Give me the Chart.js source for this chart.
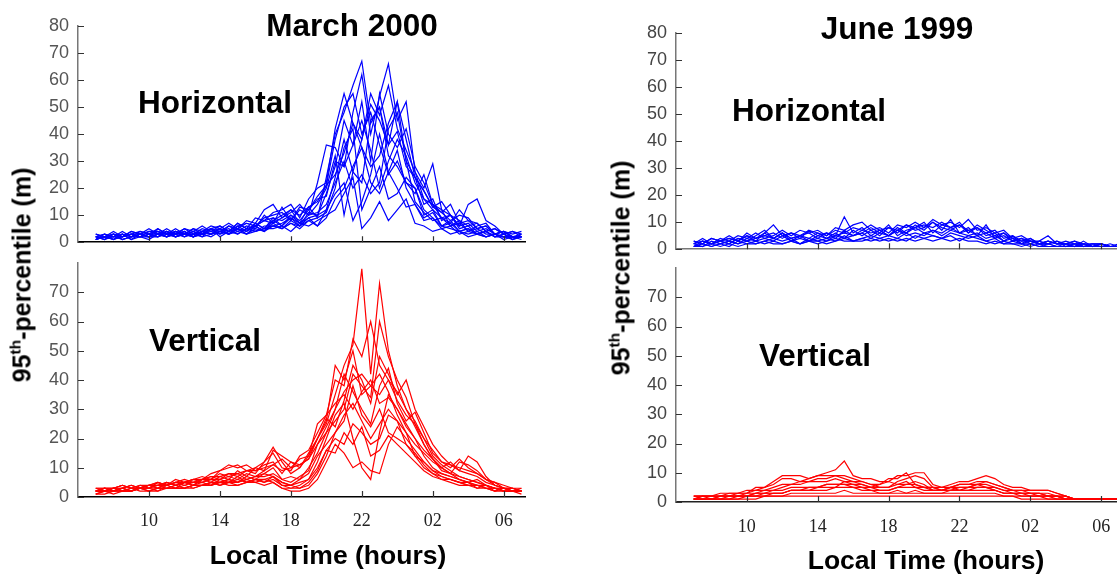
<!DOCTYPE html>
<html>
<head>
<meta charset="utf-8">
<script src="https://cdn.jsdelivr.net/npm/chart.js@4.4.1/dist/chart.umd.min.js"></script>
<style>
  html, body { margin: 0; padding: 0; background: #fff; overflow: hidden; }
  #stage { position: relative; width: 1117px; height: 576px; overflow: hidden; background: #fff; }
  canvas { position: absolute; }
  .lbl {
    position: absolute; font-family: 'Liberation Sans', Arial, sans-serif; font-weight: bold;
    color: #000; white-space: nowrap; line-height: 1; transform: translate(-50%, -50%);
  }
  .big { font-size: 31.5px; }
  .axt { font-size: 26.5px; }
  .ylab { font-size: 25px; transform: translate(-50%, -50%) rotate(-90deg); }
  .ylab sup { font-size: 0.62em; vertical-align: 0.62em; line-height: 0; }
</style>
</head>
<body>
<div id="stage">
  <canvas id="marchH" width="540" height="262" style="left:0;top:0"></canvas>
  <canvas id="marchV" width="540" height="336" style="left:0;top:240px"></canvas>
  <canvas id="juneH" width="540" height="269" style="left:600px;top:0"></canvas>
  <canvas id="juneV" width="540" height="331" style="left:600px;top:245px"></canvas>

  <div class="lbl big" style="left:352px;top:26px">March 2000</div>
  <div class="lbl big" style="left:215px;top:103px">Horizontal</div>
  <div class="lbl big" style="left:205px;top:341px">Vertical</div>
  <div class="lbl axt" style="left:328px;top:555px">Local Time (hours)</div>
  <div class="lbl ylab" style="left:22px;top:275px">95<sup>th</sup>-percentile (m)</div>

  <div class="lbl big" style="left:897px;top:29px">June 1999</div>
  <div class="lbl big" style="left:809px;top:111px">Horizontal</div>
  <div class="lbl big" style="left:815px;top:356px">Vertical</div>
  <div class="lbl axt" style="left:926px;top:560px">Local Time (hours)</div>
  <div class="lbl ylab" style="left:621px;top:268px">95<sup>th</sup>-percentile (m)</div>
</div>

<script>
// Half-hourly sample times, in hours from midnight of the first day (07:00 -> 07:00 next day)
const HOURS = [7, 7.5, 8, 8.5, 9, 9.5, 10, 10.5, 11, 11.5, 12, 12.5, 13, 13.5,
  14, 14.5, 15, 15.5, 16, 16.5, 17, 17.5, 18, 18.5, 19, 19.5, 20, 20.5,
  21, 21.5, 22, 22.5, 23, 23.5, 24, 24.5, 25, 25.5, 26, 26.5, 27, 27.5,
  28, 28.5, 29, 29.5, 30, 30.5, 31];

const TICK_HOURS = [10, 14, 18, 22, 26, 30];
const TICK_LABELS = ['10', '14', '18', '22', '02', '06'];
const Y_TICKS_TOP = [0, 10, 20, 30, 40, 50, 60, 70, 80];
const Y_TICKS_BOTTOM = [0, 10, 20, 30, 40, 50, 60, 70];

// 95th-percentile horizontal displacement (m), March 2000, one row per night
const marchHorizontal = [
  [2,3,1,3,2,4,3, 4,2,4,3,2,4,3, 5,3,5,4,7,5,9, 6,10,7,13,9,24,40, 48,58,67,44,50,36,52, 30,24,14,16,8,10,5, 6,3,4,2,3,1,3],
  [1,2,3,1,2,3,2, 5,3,4,2,3,2,5, 3,6,4,6,5,10,7, 13,8,12,10,22,36,35, 28,48,62,40,54,66,45, 52,26,20,29,12,10,6, 14,16,8,6,3,4,2],
  [2,1,2,3,1,2,3, 2,4,3,4,2,4,3, 5,3,6,4,7,5,8, 6,9,6,11,10,18,28, 45,36,52,30,55,40,35, 42,28,22,14,12,6,8, 4,6,7,3,4,2,2],
  [1,2,1,2,3,2,1, 3,4,2,3,5,3,5, 2,4,5,3,6,4,8, 10,12,7,9,6,12,24, 38,26,22,45,50,32,28, 22,20,10,12,6,8,4, 5,3,4,2,3,1,2],
  [2,3,2,4,2,3,2, 3,2,4,3,3,5,4, 6,4,7,5,9,8,11, 12,14,9,16,20,22,42, 55,44,35,28,32,44,52, 38,24,19,13,11,14,7, 8,5,6,3,4,2,3],
  [1,2,2,3,1,3,2, 4,3,2,3,2,4,3, 4,3,5,4,6,4,7, 5,8,6,9,10,12,18, 22,8,15,25,40,26,20, 13,14,8,9,6,7,4, 5,3,4,2,2,1,2],
  [2,1,3,2,4,3,5, 3,4,3,5,3,4,6, 5,7,5,8,7,12,14, 9,11,14,10,14,20,32, 10,26,38,55,47,58,42, 34,26,16,12,9,10,6, 7,4,5,3,4,2,2],
  [1,2,1,2,3,2,2, 3,2,3,4,2,3,4, 3,4,3,5,4,5,6, 5,7,6,8,9,11,20, 35,42,12,20,28,16,18, 24,20,12,9,5,6,3, 4,3,2,3,2,2,1],
  [2,2,3,2,3,4,3, 5,3,4,3,5,4,5, 6,4,7,5,6,8,9, 8,10,8,12,16,17,30, 28,36,45,34,20,30,38, 32,22,16,14,9,7,12, 8,7,4,5,3,2,2],
  [1,3,2,1,2,3,2, 3,2,3,2,4,2,3, 4,3,5,3,4,5,5, 6,4,7,6,8,10,12, 18,24,5,9,15,8,12, 16,7,6,4,5,3,4, 2,3,2,3,1,2,2],
  [3,2,3,2,4,3,4, 3,5,3,5,4,6,4, 5,4,6,7,6,9,10, 11,8,13,12,17,21,38, 50,55,40,48,36,25,30, 22,18,25,14,11,8,10, 9,5,6,3,4,3,4],
  [2,1,3,1,2,3,2, 2,4,2,3,2,4,3, 4,5,3,5,4,6,6, 7,9,7,10,11,14,22, 30,20,25,18,22,42,48, 30,15,11,8,9,6,7, 4,5,3,3,2,2,2],
  [3,2,4,2,3,2,4, 4,3,5,3,4,3,5, 4,6,5,7,6,8,7, 9,12,10,13,15,21,25, 33,44,38,51,45,36,41, 28,24,19,13,15,10,8, 6,7,4,5,3,4,3],
  [1,2,1,3,2,2,3, 2,3,2,4,2,3,2, 4,3,4,3,5,4,6, 5,7,5,8,6,9,16, 20,28,35,22,18,26,34, 20,14,9,11,6,5,4, 3,4,2,3,2,2,2]
];

// 95th-percentile vertical displacement (m), March 2000
const marchVertical = [
  [2,3,2,3,4,3,4, 3,5,4,5,4,6,5, 7,6,9,7,10,9,16, 14,12,10,15,20,25,35, 45,52,78,42,73,50,38, 30,24,18,13,10,8,6, 5,3,4,2,3,2,2],
  [3,2,3,4,3,3,4, 5,4,6,5,6,7,6, 9,10,11,9,8,12,15, 10,9,14,16,22,28,40, 38,54,48,60,45,40,33, 28,25,20,14,11,9,7, 6,5,4,3,3,2,3],
  [2,3,2,2,3,4,3, 4,3,3,5,4,6,6, 8,7,8,6,7,8,10, 6,5,7,9,18,24,30, 42,36,30,25,38,44,32, 26,29,22,15,12,10,13, 10,8,6,5,4,3,2],
  [1,2,3,2,2,3,3, 2,4,3,3,4,5,4, 6,5,7,5,6,5,7, 4,3,4,6,12,20,28, 32,20,10,6,22,35,30, 25,20,14,10,8,7,6, 5,4,3,2,3,2,2],
  [2,2,3,3,2,4,3, 5,4,5,6,5,6,7, 6,8,7,9,10,12,17, 12,8,10,14,20,26,45, 40,50,35,38,42,36,28, 22,18,15,12,10,12,9, 8,7,5,4,3,2,2],
  [3,3,2,3,4,3,3, 4,4,5,4,5,5,6, 5,6,5,7,6,8,7, 5,4,6,8,14,18,22, 28,32,26,20,25,30,26, 18,14,12,9,8,7,6, 5,6,4,3,3,2,2],
  [2,2,2,3,2,3,3, 3,4,3,3,4,4,5, 4,5,4,5,5,6,5, 3,2,2,3,6,12,18, 15,10,12,9,8,18,24, 20,16,12,9,7,6,5, 4,4,3,3,2,2,1],
  [2,3,3,4,3,3,4, 4,5,4,5,6,6,8, 9,11,10,11,9,11,12, 8,12,11,13,18,22,30, 36,40,42,38,35,40,36, 30,26,20,16,12,11,9, 14,12,7,4,3,3,3],
  [2,2,3,2,2,3,4, 3,3,4,3,4,4,5, 5,6,5,6,7,7,8, 6,7,6,10,15,22,26, 30,42,38,34,60,48,40, 34,25,18,13,10,8,7, 6,5,4,3,2,2,2],
  [1,1,2,2,3,2,2, 3,3,3,4,3,4,4, 5,5,6,5,6,6,7, 5,4,5,6,10,16,20, 18,25,22,18,20,28,26, 22,14,10,8,6,5,4, 4,3,3,2,2,2,2],
  [3,3,3,4,3,4,4, 5,4,5,5,6,5,6, 6,7,6,8,7,9,11, 9,10,13,14,25,28,32, 35,30,36,40,32,34,30, 24,20,16,13,9,8,12, 11,9,6,5,3,3,2],
  [2,2,2,3,2,3,2, 3,3,4,3,3,4,5, 4,5,5,6,5,4,5, 3,3,3,4,8,14,22, 26,38,28,24,30,22,20, 18,15,11,8,7,6,5, 5,4,4,3,2,2,2],
  [2,3,3,3,4,3,4, 4,5,4,5,5,6,7, 7,8,8,9,9,10,11, 13,10,11,13,20,27,24, 33,45,40,32,48,42,35, 40,30,24,18,14,11,10, 9,8,6,4,3,3,2],
  [1,2,1,2,2,3,2, 2,3,3,3,4,4,4, 5,4,4,5,6,5,6, 4,4,3,5,9,16,15, 22,18,24,14,16,21,18, 15,12,9,7,6,6,5, 4,4,3,3,2,2,2]
];

// 95th-percentile horizontal displacement (m), June 1999
const juneHorizontal = [
  [2,4,2,3,4,3,5, 3,6,4,6,3,5,4, 6,4,5,12,6,8,5, 7,5,8,6,9,7,10, 8,7,9,6,8,5,6, 3,5,2,4,2,3,2, 2,1,3,1,2,1,1],
  [1,3,2,3,2,4,3, 5,7,4,6,4,5,3, 5,4,6,4,7,5,7, 5,8,6,9,7,8,10, 7,11,6,8,5,9,4, 6,3,4,2,3,5,2, 2,3,1,2,2,1,1],
  [3,2,4,3,5,3,6, 4,6,9,5,6,4,7, 5,6,4,7,5,6,8, 6,9,5,7,8,10,6, 9,8,10,6,9,7,5, 6,4,3,4,2,3,2, 3,2,2,1,2,1,1],
  [2,1,3,2,3,2,4, 3,4,3,5,3,4,3, 4,3,5,4,5,6,4, 6,5,7,5,6,5,7, 5,7,6,5,6,4,5, 3,4,2,3,2,2,1, 2,1,2,1,1,1,1],
  [1,2,1,2,3,2,3, 2,3,4,3,4,2,4, 3,4,3,5,3,4,5, 4,5,4,6,4,6,5, 4,6,5,4,5,3,4, 2,3,2,2,1,2,1, 1,2,1,1,1,1,1],
  [2,3,2,4,3,5,4, 6,4,5,7,5,7,6, 7,5,8,7,9,10,7, 8,6,9,8,10,8,11, 9,10,8,11,7,8,6, 7,4,5,3,3,2,3, 2,3,2,2,2,1,2],
  [1,2,1,2,1,3,2, 3,2,3,2,3,2,3, 2,3,4,3,3,4,3, 4,3,4,3,5,4,5, 4,5,3,5,4,3,2, 3,2,2,1,2,1,1, 1,1,2,1,1,1,1],
  [2,3,2,3,2,4,3, 4,5,4,6,4,5,6, 4,6,5,6,5,7,6, 7,5,7,6,8,6,7, 6,8,6,7,5,6,4, 5,3,4,3,2,3,2, 2,2,1,2,1,2,1],
  [3,2,4,3,4,3,5, 4,5,6,4,6,5,7, 6,5,7,6,8,7,9, 7,8,7,9,8,9,8, 10,8,9,7,8,6,7, 4,5,3,3,2,2,3, 1,2,2,1,2,1,1],
  [1,1,2,1,2,1,2, 2,3,2,2,3,2,3, 3,2,3,4,3,3,4, 3,4,3,4,3,4,3, 4,3,4,3,3,2,3, 2,2,1,2,1,1,1, 1,1,1,1,1,1,1]
];

// 95th-percentile vertical displacement (m), June 1999
const juneVertical = [
  [2,2,2,2,2,3,4, 4,5,7,9,9,9,8, 9,10,11,14,9,8,8, 7,7,9,9,10,10,6, 5,6,7,7,8,9,8, 6,5,5,4,4,4,3, 2,1,1,1,1,1,1],
  [1,2,2,2,3,3,3, 5,5,6,8,8,7,8, 9,9,9,9,8,7,6, 6,8,8,10,6,5,4, 4,5,6,6,7,7,6, 5,4,4,4,4,4,3, 2,1,1,1,1,1,1],
  [1,1,1,2,2,2,2, 3,3,4,5,6,6,7, 7,7,8,7,7,6,5, 5,5,6,6,6,5,5, 5,5,5,5,6,6,5, 4,4,3,3,3,2,2, 1,1,1,1,1,1,1],
  [1,1,1,1,1,2,2, 2,2,3,3,4,4,5, 5,6,6,6,5,5,5, 4,4,5,5,5,4,4, 4,4,4,4,5,5,4, 3,3,3,2,2,2,1, 1,1,1,1,1,1,1],
  [2,2,2,2,2,2,3, 3,3,3,3,4,4,4, 4,4,5,5,5,4,4, 3,3,4,3,4,3,3, 3,4,4,4,4,4,4, 3,3,3,3,2,2,2, 1,1,1,1,1,1,1],
  [1,1,1,1,1,1,2, 2,2,2,2,3,3,3, 3,3,3,4,3,3,3, 3,3,3,3,3,3,3, 3,3,3,3,3,3,3, 2,2,2,2,2,1,1, 1,1,1,1,1,1,1],
  [1,1,1,1,2,2,2, 3,4,5,6,6,7,7, 8,8,9,8,7,7,6, 5,5,7,8,9,8,5, 4,5,6,6,6,7,6, 5,4,4,3,3,3,2, 2,1,1,1,1,1,1],
  [2,2,2,3,3,3,3, 4,4,4,4,5,5,5, 5,6,6,6,6,5,4, 4,4,5,6,7,6,4, 4,4,5,5,5,5,5, 4,3,3,3,3,2,2, 2,1,1,1,1,1,1],
  [1,1,1,1,1,1,1, 1,2,2,2,2,2,2, 2,2,2,2,2,2,2, 2,2,2,2,2,2,2, 2,2,2,2,2,2,2, 2,2,1,1,1,1,1, 1,1,1,1,1,1,1],
  [1,2,1,2,2,2,2, 2,3,3,3,4,4,4, 5,5,5,7,6,6,5, 6,7,6,7,5,5,5, 4,5,4,5,6,5,4, 3,3,2,2,2,2,2, 1,1,1,1,1,1,1]
];

// Short tick marks drawn inward from the axis lines
const innerTicks = {
  id: 'innerTicks',
  afterDraw(chart, args, opts) {
    const { ctx, chartArea, scales } = chart;
    ctx.save();
    ctx.strokeStyle = opts.color;
    ctx.lineWidth = 1.2;
    ctx.beginPath();
    opts.x.forEach(v => {
      const px = Math.round(scales.x.getPixelForValue(v)) + 0.5;
      ctx.moveTo(px, chartArea.bottom);
      ctx.lineTo(px, chartArea.bottom - 6);
    });
    opts.y.forEach(v => {
      const py = Math.round(scales.y.getPixelForValue(v)) + 0.5;
      ctx.moveTo(chartArea.left, py);
      ctx.lineTo(chartArea.left + 6, py);
    });
    ctx.stroke();
    ctx.restore();
  }
};

function panel(id, rows, color, o) {
  const datasets = rows.map(vals => ({
    data: vals.map((v, i) => ({ x: HOURS[i], y: v })),
    borderColor: color,
    borderWidth: 1.2,
    pointRadius: 0,
    tension: 0,
    fill: false
  }));
  return new Chart(document.getElementById(id), {
    type: 'line',
    data: { datasets },
    options: {
      responsive: false,
      animation: false,
      devicePixelRatio: 1,
      layout: { padding: o.padding },
      plugins: {
        legend: { display: false },
        tooltip: { enabled: false },
        innerTicks: { x: TICK_HOURS, y: o.yTicks, color: o.tickColor }
      },
      scales: {
        x: {
          type: 'linear', min: 6, max: o.xMax,
          afterBuildTicks: s => { s.ticks = TICK_HOURS.map(v => ({ value: v })); },
          afterFit: s => { s.height = o.xHeight; },
          ticks: {
            display: o.showX, autoSkip: false, maxRotation: 0, padding: o.xPad,
            color: '#222',
            font: { family: "'Liberation Serif', serif", size: 18 },
            callback: v => TICK_LABELS[TICK_HOURS.indexOf(v)]
          },
          grid: { display: false, drawTicks: false },
          border: { display: true, color: o.xBorder, width: 1.5 }
        },
        y: {
          min: 0, max: 80,
          afterBuildTicks: s => { s.ticks = o.yTicks.map(v => ({ value: v })); },
          afterFit: s => { s.width = o.yWidth; },
          ticks: {
            padding: 9, color: o.yLabelColor,
            font: { family: "'Liberation Sans', Arial, sans-serif", size: 18 }
          },
          grid: { display: false, drawTicks: false },
          border: { display: true, color: '#777', width: 1.5 }
        }
      }
    },
    plugins: [innerTicks]
  });
}

panel('marchH', marchHorizontal, '#0000ff', {
  padding: { top: 26, right: 15, bottom: 0, left: 0 }, xMax: 31.2, xHeight: 2,
  showX: false, xPad: 0, yTicks: Y_TICKS_TOP, yWidth: 78, xBorder: '#000',
  tickColor: '#333', yLabelColor: '#555'
});
panel('marchV', marchVertical, '#ff0000', {
  padding: { top: 23, right: 15, bottom: 0, left: 0 }, xMax: 31.2, xHeight: 79,
  showX: true, xPad: 13, yTicks: Y_TICKS_BOTTOM, yWidth: 78, xBorder: '#000',
  tickColor: '#333', yLabelColor: '#555'
});
panel('juneH', juneHorizontal, '#0000ff', {
  padding: { top: 33, right: 14, bottom: 0, left: 0 }, xMax: 31.4, xHeight: 2,
  showX: false, xPad: 0, yTicks: Y_TICKS_TOP, yWidth: 76, xBorder: '#777',
  tickColor: '#333', yLabelColor: '#444'
});
panel('juneV', juneVertical, '#ff0000', {
  padding: { top: 23, right: 14, bottom: 0, left: 0 }, xMax: 31.4, xHeight: 74,
  showX: true, xPad: 14, yTicks: Y_TICKS_BOTTOM, yWidth: 76, xBorder: '#222',
  tickColor: '#333', yLabelColor: '#444'
});
</script>
</body>
</html>
